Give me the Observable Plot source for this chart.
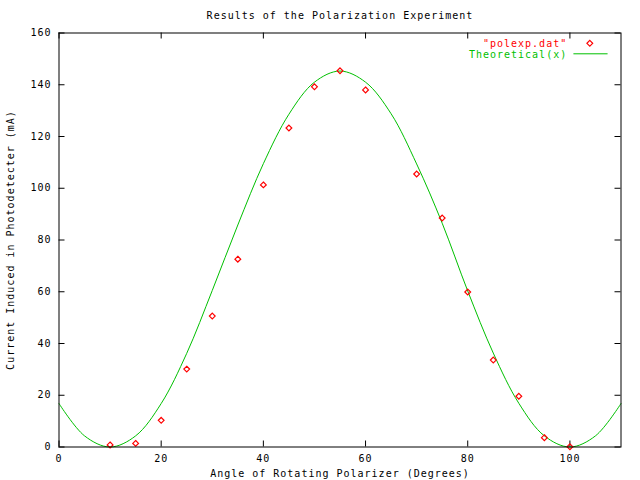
<!DOCTYPE html>
<html><head><meta charset="utf-8">
<script src="https://cdn.jsdelivr.net/npm/d3@7"></script>
<script src="https://cdn.jsdelivr.net/npm/@observablehq/plot@0.6"></script>
<style>body{margin:0;background:#fff} svg{display:block}</style>
</head><body><div id="chart"></div>
<script>
const angles = [10, 15, 20, 25, 30, 35, 40, 45, 50, 55, 60, 70, 75, 80, 85, 90, 95, 100];
const currents = [0.8, 1.4, 10.3, 30.1, 50.6, 72.6, 101.3, 123.3, 139.2, 145.4, 138.0, 105.5, 88.5, 59.9, 33.6, 19.6, 3.6, 0.1];
const theoryAngles = [0, 5, 10, 15, 20, 25, 30, 35, 40, 45, 50, 55, 60, 65, 70, 75, 80, 85, 90, 95, 100, 105, 110];
const theoryCurrents = [16.8, 4.3, 0, 4.3, 16.8, 36.2, 60.5, 85.8, 109.5, 128.6, 141.0, 145.3, 141.0, 128.8, 109.4, 86.5, 60.3, 36.3, 16.9, 4.3, 0, 4.3, 16.8];
const xTicks = [0, 20, 40, 60, 80, 100];
const yTicks = [0, 20, 40, 60, 80, 100, 120, 140, 160];
const titleText = "Results of the Polarization Experiment";
const xLabel = "Angle of Rotating Polarizer (Degrees)";
const yLabel = "Current Induced in Photodetecter (mA)";
const dataLabel = "\"polexp.dat\"";
const theoryLabel = "Theoretical(x)";

const W = 640, H = 480;
const mL = 58.5, mR = 19.5, mT = 32.5, mB = 33.5;
const fw = W - mL - mR, fh = H - mT - mB;
const tk = 6;
const red = "#ff0000", green = "#00c000";

const lineShape = {draw(context, l) { context.moveTo(0, 0); context.lineTo(0, -l); }};

const chart = Plot.plot({
  width: W, height: H,
  marginLeft: mL, marginRight: mR, marginTop: mT, marginBottom: mB,
  style: {fontFamily: "'DejaVu Sans Mono', monospace", fontSize: "10px", letterSpacing: "1px", background: "#fff", color: "#000"},
  x: {domain: [0, 110]},
  y: {domain: [0, 160]},
  marks: [
    Plot.axisX({ticks: xTicks, tickSize: 0, tickPadding: 7.5, label: null, fill: "#000"}),
    Plot.axisY({ticks: yTicks, tickSize: 0, tickPadding: 7.5, label: null, fill: "#000"}),
    // inner ticks (bottom, top, left, right)
    Plot.tickX(xTicks, {x: d => d, insetTop: fh - tk, stroke: "#000"}),
    Plot.tickX(xTicks, {x: d => d, insetBottom: fh - tk, stroke: "#000"}),
    Plot.tickY(yTicks, {y: d => d, insetRight: fw - tk, stroke: "#000"}),
    Plot.tickY(yTicks, {y: d => d, insetLeft: fw - tk, stroke: "#000"}),
    Plot.line(theoryCurrents, {x: theoryAngles, y: theoryCurrents, curve: "catmull-rom", stroke: green, strokeWidth: 1}),
    Plot.dot(currents, {x: angles, y: currents, symbol: "diamond2", r: 2.6, stroke: red, strokeWidth: 1.2, fill: "none"}),
    Plot.frame({stroke: "#000", strokeWidth: 1}),
    // titles
    Plot.text([titleText], {text: d => d, frameAnchor: "top", dy: -17, textAnchor: "middle", lineAnchor: "middle", fill: "#000"}),
    Plot.text([xLabel], {text: d => d, frameAnchor: "bottom", dy: 26.5, textAnchor: "middle", lineAnchor: "middle", fill: "#000"}),
    Plot.text([yLabel], {text: d => d, frameAnchor: "left", dx: -47.8, rotate: -90, textAnchor: "middle", lineAnchor: "middle", fill: "#000"}),
    // legend
    Plot.text([dataLabel], {text: d => d, frameAnchor: "top-right", dx: -53.8, dy: 10.8, textAnchor: "end", lineAnchor: "middle", fill: red}),
    Plot.dot([dataLabel], {frameAnchor: "top-right", dx: -31.2, dy: 10.3, symbol: "diamond2", r: 2.6, stroke: red, strokeWidth: 1.2, fill: "none"}),
    Plot.text([theoryLabel], {text: d => d, frameAnchor: "top-right", dx: -53.8, dy: 21.3, textAnchor: "end", lineAnchor: "middle", fill: green}),
    Plot.vector([theoryLabel], {frameAnchor: "top-right", dx: -47.2, dy: 20.8, length: 33.4, rotate: 90, anchor: "start", shape: lineShape, stroke: green, strokeWidth: 1})
  ]
});
document.getElementById("chart").appendChild(chart);
</script>
</body></html>
